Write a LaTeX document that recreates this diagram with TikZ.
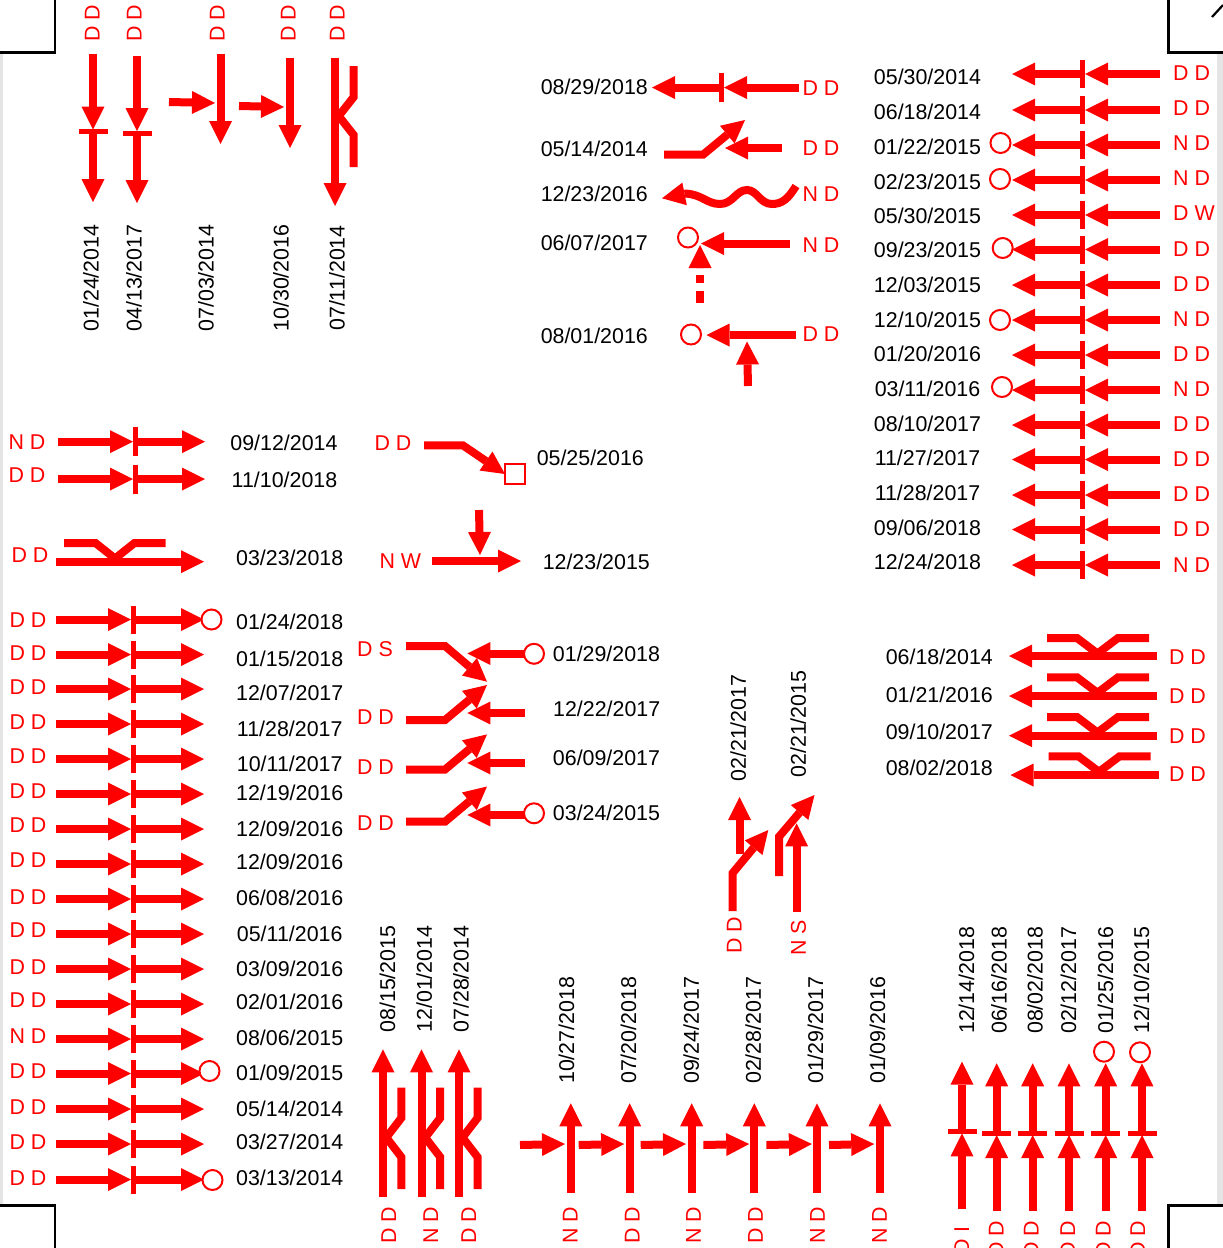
\documentclass[tikz,border=0pt]{standalone}
\usepackage{fontspec}
\setmainfont{Liberation Sans}
\usetikzlibrary{arrows.meta}
\definecolor{band}{HTML}{E5E5E5}
\tikzset{
  lbl/.style={font=\fontsize{21.4}{24}\selectfont,inner sep=0pt,text height=15pt,text depth=0pt},
  dt/.style={lbl,text=black},
  tag/.style={lbl,text=red},
  ra/.style={draw=red,line width=8pt,-{Triangle[length=23pt,width=23pt,line width=0pt,fill=red]}},
  rl/.style={draw=red,line width=8pt},
  barl/.style={draw=red,line width=5pt},
  ring/.style={circle,draw=red,fill=white,line width=2pt,minimum size=20pt,inner sep=0pt},
  sq/.style={rectangle,draw=red,fill=white,line width=2pt,minimum size=20pt,inner sep=0pt},
  corner/.style={draw=black,line width=2.2pt}
}
\begin{document}
\begin{tikzpicture}[x=1pt,y=-1pt]
\useasboundingbox (0,0) rectangle (1223,1248);
\clip (0,0) rectangle (1223,1248);
\fill[white] (0,0) rectangle (1223,1248);
\fill[band] (0,52) rectangle (3,1205);
\fill[band] (1217,52) rectangle (1223,1205);
\draw[corner] (0,52.5) -- (55,52.5) -- (55,0);
\draw[corner] (1168.5,0) -- (1168.5,52.5) -- (1223,52.5);
\draw[corner] (0,1205.5) -- (55,1205.5) -- (55,1248);
\draw[corner] (1168.5,1248) -- (1168.5,1205.5) -- (1223,1205.5);
\draw[corner] (1212,17) -- (1223,5);

% top-left group
\node[tag,rotate=90] (tl1) at (92,23) {D D};
\node[tag,rotate=90] (tl2) at (134,23) {D D};
\node[tag,rotate=90] (tl3) at (217,23) {D D};
\node[tag,rotate=90] (tl4) at (288,23) {D D};
\node[tag,rotate=90] (tl5) at (337,23) {D D};
\node[dt,rotate=90] (td1) at (91,278) {01/24/2014};
\node[dt,rotate=90] (td2) at (134,278) {04/13/2017};
\node[dt,rotate=90] (td3) at (206,278) {07/03/2014};
\node[dt,rotate=90] (td4) at (281,278) {10/30/2016};
\node[dt,rotate=90] (td5) at (337,278) {07/11/2014};
\draw[ra] (93,54) -- (93,129.5);
\draw[ra] (93,131) -- (93,202);
\draw[barl] (79,131.5) -- (108,131.5);
\draw[ra] (137,56) -- (137,131);
\draw[ra] (137,133) -- (137,203);
\draw[barl] (123,133) -- (152,133);
\draw[ra] (220.5,54) -- (220.5,144);
\draw[ra] (169,102) -- (215,103);
\draw[ra] (290,58) -- (290,148);
\draw[ra] (239,106) -- (284,107);
\draw[ra] (335,58) -- (335,206);
\draw[rl] (353.7,66) -- (353.7,97) -- (338.7,116) -- (353.7,135) -- (353.7,167);

% top-middle group
\node[dt] (m1) at (594.3,87) {08/29/2018};
\node[dt] (m2) at (594.3,149) {05/14/2014};
\node[dt] (m3) at (594.3,194) {12/23/2016};
\node[dt] (m4) at (594.3,243) {06/07/2017};
\node[dt] (m5) at (594.3,336) {08/01/2016};
\node[tag] (mt1) at (821,88) {D D};
\node[tag] (mt2) at (821,148) {D D};
\node[tag] (mt3) at (821,194) {N D};
\node[tag] (mt4) at (821,245) {N D};
\node[tag] (mt5) at (821,334) {D D};
\draw[ra] (799,87.5) -- (724,87.5);
\draw[ra] (722,87.5) -- (652,87.5);
\draw[barl] (721.5,73) -- (721.5,101.5);
\draw[ra] (664,154.7) -- (703,154.7) -- (745,120);
\draw[ra] (782,148) -- (725,148);
\draw[ra] (796,186) .. controls (788,199) and (782,204) .. (772,204)
  .. controls (760,204) and (757,190) .. (747,190)
  .. controls (736,190) and (733,204) .. (720,204)
  .. controls (707,204) and (702,194.5) .. (686,193.6) -- (662,198.3);
\draw[ra] (790,243.5) -- (701,243.5);
\draw[ra,dash pattern=on 12pt off 8pt on 8pt off 7pt] (700,303) -- (700,245);
\node[ring] (c1) at (688,237.5) {};
\draw[ra] (796,335) -- (706.5,335);
\draw[ra] (748,386) -- (747,341.5);
\node[ring] (c2) at (691,334.5) {};

% right column
\foreach \i/\ay/\ty/\ly/\d/\l in {
 1/74/77/73/05\slash30\slash2014/D D,
 2/110/112/108/06\slash18\slash2014/D D,
 3/145/147/143/01\slash22\slash2015/N D,
 4/180/182/178/02\slash23\slash2015/N D,
 5/215/216/213/05\slash30\slash2015/D W,
 6/249.5/250/249/09\slash23\slash2015/D D,
 7/285/285/284/12\slash03\slash2015/D D,
 8/320/320/319/12\slash10\slash2015/N D,
 9/355/354/354/01\slash20\slash2016/D D,
 10/390/389/389/03\slash11\slash2016/N D,
 11/425/424/424/08\slash10\slash2017/D D,
 12/459.5/458/459/11\slash27\slash2017/D D,
 13/495/493/494/11\slash28\slash2017/D D,
 14/529.5/528/529/09\slash06\slash2018/D D,
 15/565/562/565/12\slash24\slash2018/N D}{
  \node[dt] (rd\i) at (927.5,\ty) {\d};
  \node[tag,anchor=west] (rt\i) at (1173,\ly) {\l};
  \draw[ra] (1160,\ay) -- (1085,\ay);
  \draw[ra] (1083,\ay) -- (1012,\ay);
  \draw[barl] (1082,\ay-14) -- (1082,\ay+14);
}
\node[ring] (rc1) at (1000.5,143) {};
\node[ring] (rc2) at (1000,179) {};
\node[ring] (rc3) at (1002.7,248) {};
\node[ring] (rc4) at (1000,320) {};
\node[ring] (rc5) at (1002,387) {};

% left small block
\node[tag] (ls1) at (27,441.7) {N D};
\node[tag] (ls2) at (27,475) {D D};
\node[dt] (lsd1) at (284,443) {09/12/2014};
\node[dt] (lsd2) at (284.5,479.5) {11/10/2018};
\draw[ra] (58,441.7) -- (133,441.7);
\draw[ra] (135,441.7) -- (205,441.7);
\draw[barl] (135,427) -- (135,456);
\draw[ra] (58,479) -- (133,479);
\draw[ra] (135,479) -- (205,479);
\draw[barl] (135,464.5) -- (135,493.5);
\node[tag] (ls3) at (30,555) {D D};
\node[dt] (lsd3) at (289.7,558) {03/23/2018};
\draw[ra] (56,561.7) -- (204,561.7);
\draw[rl] (64,543) -- (95.5,543) -- (115,558.5) -- (134.5,543) -- (165.7,543);

% left list
\foreach \i/\ay/\ty/\ly/\d/\l in {
 1/619.5/622.3/619.7/01\slash24\slash2018/D D,
 2/654.5/658.7/652.7/01\slash15\slash2018/D D,
 3/689/692.7/686.7/12\slash07\slash2017/D D,
 4/724/728.7/722.3/11\slash28\slash2017/D D,
 5/759/763.7/755.5/10\slash11\slash2017/D D,
 6/794/792.7/791/12\slash19\slash2016/D D,
 7/829/828.7/824.5/12\slash09\slash2016/D D,
 8/864/861.7/860.3/12\slash09\slash2016/D D,
 9/899/898/896.7/06\slash08\slash2016/D D,
 10/934/934/930.3/05\slash11\slash2016/D D,
 11/969/969.3/966.7/03\slash09\slash2016/D D,
 12/1004/1002.3/999.5/02\slash01\slash2016/D D,
 13/1039/1038.3/1035.5/08\slash06\slash2015/N D,
 14/1073.5/1072.7/1070.7/01\slash09\slash2015/D D,
 15/1109/1109/1106.7/05\slash14\slash2014/D D,
 16/1144/1141.7/1141.7/03\slash27\slash2014/D D,
 17/1179.5/1177.5/1177.5/03\slash13\slash2014/D D}{
  \node[dt] (ld\i) at (289.7,\ty) {\d};
  \node[tag] (lt\i) at (28,\ly) {\l};
  \draw[ra] (56,\ay) -- (131,\ay);
  \draw[ra] (133,\ay) -- (204,\ay);
  \draw[barl] (133.5,\ay-14) -- (133.5,\ay+14);
}
\node[ring] (lc1) at (211.5,619.5) {};
\node[ring] (lc2) at (209.5,1071) {};
\node[ring] (lc3) at (212.5,1180) {};

% centre block
\node[tag] (ct1) at (393,442.7) {D D};
\node[dt] (cd1) at (590.3,457.7) {05/25/2016};
\draw[ra] (424,445.4) -- (463,445.4) -- (505,474);
\node[sq] (sq1) at (515.3,474.2) {};
\draw[ra] (479,510) -- (480,555);
\node[tag] (ct2) at (400.3,560.7) {N W};
\draw[ra] (431.5,561) -- (521,561);
\node[dt] (cd2) at (596.3,561.7) {12/23/2015};
\node[tag] (ct3) at (375,649) {D S};
\draw[ra] (406,646) -- (445,646) -- (487,681.7);
\draw[ra] (525,653.5) -- (467.3,653.5);
\node[ring] (cc1) at (534,653.8) {};
\node[dt] (cd3) at (606.5,653.5) {01/29/2018};
\node[tag] (ct4) at (375.5,717) {D D};
\draw[ra] (406,720) -- (445,720) -- (487,685);
\draw[ra] (525,713) -- (467.3,713);
\node[dt] (cd4) at (606.7,708.5) {12/22/2017};
\node[tag] (ct5) at (375.5,767) {D D};
\draw[ra] (406,769.5) -- (445,769.5) -- (487,734.4);
\draw[ra] (525,763) -- (467.3,763);
\node[dt] (cd5) at (606.5,757.8) {06/09/2017};
\node[tag] (ct6) at (375.5,823.3) {D D};
\draw[ra] (406,821.7) -- (445,821.7) -- (487,786.5);
\draw[ra] (525,815) -- (467.3,815);
\node[ring] (cc2) at (534,813.3) {};
\node[dt] (cd6) at (606.5,812.8) {03/24/2015};

% mid-right pair
\node[dt,rotate=90] (pd1) at (738.3,728) {02/21/2017};
\node[dt,rotate=90] (pd2) at (798.3,724) {02/21/2015};
\node[tag,rotate=90] (pt1) at (734,935) {D D};
\node[tag,rotate=90] (pt2) at (798.3,937.7) {N S};
\draw[ra] (739.5,854) -- (739.5,797);
\draw[ra] (732.7,911) -- (732.7,873) -- (768.3,830);
\draw[ra] (779,876) -- (779,836.7) -- (814.5,795);
\draw[ra] (796.6,912.3) -- (796.6,823.3);

% K group right
\foreach \i/\dx/\ay/\uy/\ty/\ly/\d in {
 1/0/656/638/656.7/656.7/06\slash18\slash2014,
 2/0/696/677.3/695/695.7/01\slash21\slash2016,
 3/0/735.7/717/731.7/735.7/09\slash10\slash2017,
 4/1.5/775/756.3/768.3/774.3/08\slash02\slash2018}{
  \node[dt] (kd\i) at (939.3,\ty) {\d};
  \node[tag] (kt\i) at (1187.5,\ly) {D D};
  \draw[ra] (1157+\dx,\ay) -- (1009+\dx,\ay);
  \draw[rl] (1047+\dx,\uy) -- (1077+\dx,\uy) -- (1097.5+\dx,\uy+15.5) -- (1118+\dx,\uy) -- (1149+\dx,\uy);
}

% bottom K group
\foreach \i/\ax/\bx/\tx/\lx/\d/\l in {
 1/383/401.3/387.5/388.6/08\slash15\slash2015/D D,
 2/421.5/440.2/424.4/430.6/12\slash01\slash2014/N D,
 3/459/477.5/461/468.5/07\slash28\slash2014/D D}{
  \node[dt,rotate=90] (bd\i) at (\tx,979) {\d};
  \node[tag,rotate=90] (bt\i) at (\lx,1225.5) {\l};
  \draw[ra] (\ax,1196.7) -- (\ax,1049.3);
  \draw[rl] (\bx,1087.7) -- (\bx,1118) -- (\bx-15,1137.5) -- (\bx,1157) -- (\bx,1189);
}

% bottom row
\foreach \i/\ax/\sa/\sb/\tx/\lx/\d/\l in {
 1/570.8/520/565/566.6/570/10\slash27\slash2018/N D,
 2/629.7/578.7/624.2/628.6/632/07\slash20\slash2018/D D,
 3/691.7/640.7/686/691.3/693.4/09\slash24\slash2017/N D,
 4/754.3/703.4/749.2/753.3/755.4/02\slash28\slash2017/D D,
 5/817/766.4/811.9/815.6/817.4/01\slash29\slash2017/N D,
 6/880/829/874.2/877.6/879.4/01\slash09\slash2016/N D}{
  \node[dt,rotate=90] (rod\i) at (\tx,1030.3) {\d};
  \node[tag,rotate=90] (rot\i) at (\lx,1225) {\l};
  \draw[ra] (\ax,1192.7) -- (\ax,1103.3);
  \draw[ra] (\sa,1145) -- (\sb,1144);
}

% bottom-right group
\foreach \i/\ax/\tp/\by/\tx/\lx/\ly/\d/\l in {
 1/962/1061.7/1131.3/966.7/961.7/1240.6/12\slash14\slash2018/D I,
 2/996.7/1063.3/1133/999/996/1239/06\slash16\slash2018/D D,
 3/1032.7/1063.3/1133/1035/1031/1239/08\slash02\slash2018/D D,
 4/1069/1063.3/1133/1068.7/1067.7/1239/02\slash12\slash2017/D D,
 5/1105.7/1063.3/1133/1105.7/1103/1239/01\slash25\slash2016/D D,
 6/1142/1063.3/1133/1141.7/1137.7/1239/12\slash10\slash2015/D D}{
  \node[dt,rotate=90] (sd\i) at (\tx,980.3) {\d};
  \node[tag,rotate=90] (st\i) at (\lx,\ly) {\l};
  \draw[ra] (\ax,\by) -- (\ax,\tp);
  \draw[ra] (\ax,\by+77.5) -- (\ax,\by+2);
  \draw[barl] (\ax-14.5,\by) -- (\ax+14.5,\by);
}
\node[ring] (sc1) at (1104,1051.7) {};
\node[ring] (sc2) at (1140,1052.3) {};
\end{tikzpicture}
\end{document}
